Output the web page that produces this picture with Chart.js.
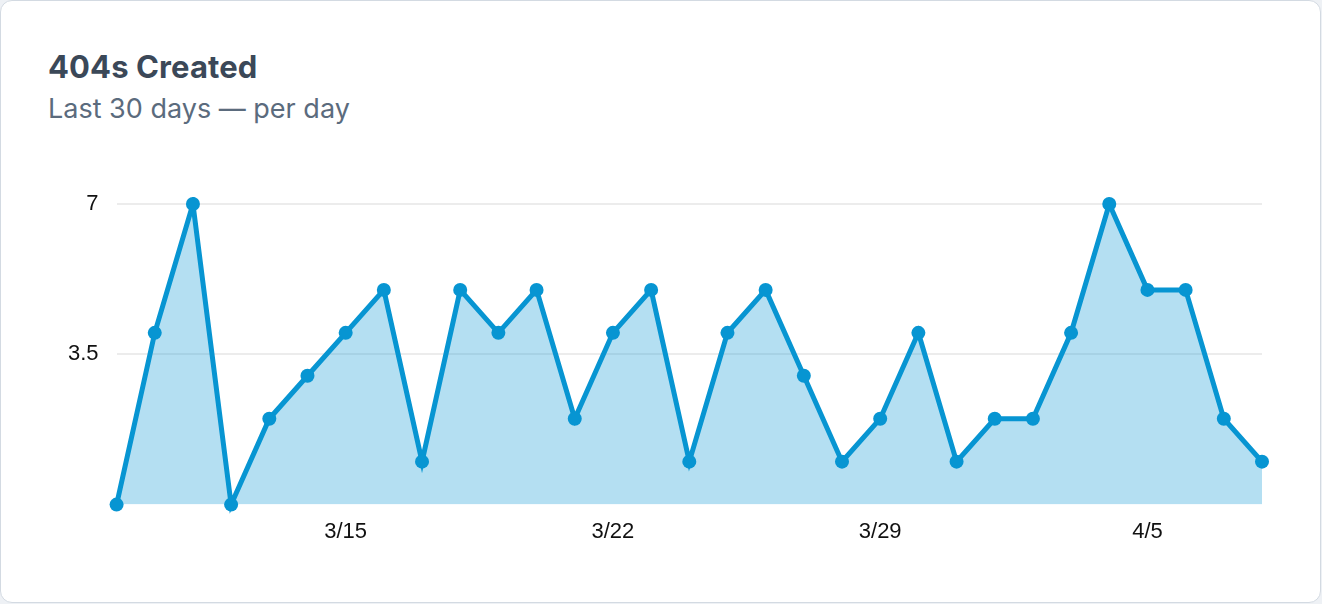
<!DOCTYPE html>
<html>
<head>
<meta charset="utf-8">
<script src="https://cdn.jsdelivr.net/npm/chart.js@4.4.1/dist/chart.umd.min.js"></script>
<style>
  html, body { margin: 0; padding: 0; background: #eef1f5; }
  body { width: 1322px; height: 604px; position: relative; overflow: hidden; }
  .card {
    position: absolute; left: 0; top: 0; width: 1319px; height: 601px;
    background: #fff; border: 1px solid #d3dae2; border-radius: 12px;
  }
  .title {
    position: absolute; left: 48px; top: 47px; margin: 0;
    font-family: Inter, "Noto Sans", sans-serif; font-weight: 700; font-size: 31px;
    color: #3b4858; letter-spacing: 0.1px; line-height: 40px;
  }
  .subtitle {
    position: absolute; left: 48px; top: 91px; margin: 0;
    font-family: Inter, "Noto Sans", sans-serif; font-weight: 400; font-size: 27px;
    color: #5b6b7d; line-height: 36px;
  }
  .chart-box { position: absolute; left: 0; top: 0; width: 1322px; height: 604px; }
</style>
</head>
<body>
<div class="card"></div>
<h2 class="title">404s Created</h2>
<p class="subtitle">Last 30 days — per day</p>
<div class="chart-box"><canvas id="notFoundChart"></canvas></div>

<script>
// daily counts, 3/9 .. 4/8
const days = [
    '3/9', '3/10', '3/11', '3/12', '3/13', '3/14', '3/15',
    '3/16', '3/17', '3/18', '3/19', '3/20', '3/21', '3/22',
    '3/23', '3/24', '3/25', '3/26', '3/27', '3/28', '3/29',
    '3/30', '3/31', '4/1', '4/2', '4/3', '4/4', '4/5',
    '4/6', '4/7', '4/8'
];
const created404 = [
    0, 4, 7, 0, 2, 3, 4,
    5, 1, 5, 4, 5, 2, 4,
    5, 1, 4, 5, 3, 1, 2,
    4, 1, 2, 2, 4, 7, 5,
    5, 2, 1
];
const xTickLabels = ['3/15', '3/22', '3/29', '4/5'];
const yTickValues = [0, 3.5, 7];

const lineColor = '#0795d2';

const ctx = document.getElementById('notFoundChart');

new Chart(ctx, {
    type: 'line',
    data: {
        labels: days,
        datasets: [{
            label: '404s',
            data: created404,
            borderColor: lineColor,
            backgroundColor: 'rgba(8, 148, 211, 0.3)',
            borderWidth: 5,
            fill: 'origin',
            tension: 0,
            // let the dots spill over the plot edge, trim the miter spikes up top
            clip: { left: 8, right: 8, top: 7, bottom: 12 },
            pointRadius: 7,
            pointHoverRadius: 7,
            pointBackgroundColor: lineColor,
            pointBorderWidth: 0
        }]
    },
    options: {
        responsive: true,
        maintainAspectRatio: false,
        animation: false,
        layout: {
            padding: { left: 50, right: 60, top: 204, bottom: 45 }
        },
        plugins: {
            legend: { display: false },
            tooltip: { enabled: false }
        },
        scales: {
            x: {
                border: { display: false },
                grid: { display: false, drawTicks: false },
                ticks: {
                    autoSkip: false,
                    maxRotation: 0,
                    padding: 14,
                    color: '#111',
                    font: { family: '"Liberation Sans", Arial, sans-serif', size: 22 },
                    callback: function(value) {
                        const lbl = this.getLabelForValue(value);
                        return xTickLabels.includes(lbl) ? lbl : '';
                    }
                }
            },
            y: {
                min: yTickValues[0],
                max: yTickValues[yTickValues.length - 1],
                border: { display: false },
                grid: {
                    drawTicks: false,
                    lineWidth: 2,
                    color: (c) => c.tick && c.tick.value === 0 ? 'rgba(0,0,0,0)' : '#ececec'
                },
                afterBuildTicks: (axis) => {
                    axis.ticks = yTickValues.map(v => ({ value: v }));
                },
                ticks: {
                    padding: 18,
                    color: '#111',
                    font: { family: '"Liberation Sans", Arial, sans-serif', size: 22 },
                    callback: (value) => value === 0 ? '' : value
                }
            }
        }
    }
});
</script>
</body>
</html>
